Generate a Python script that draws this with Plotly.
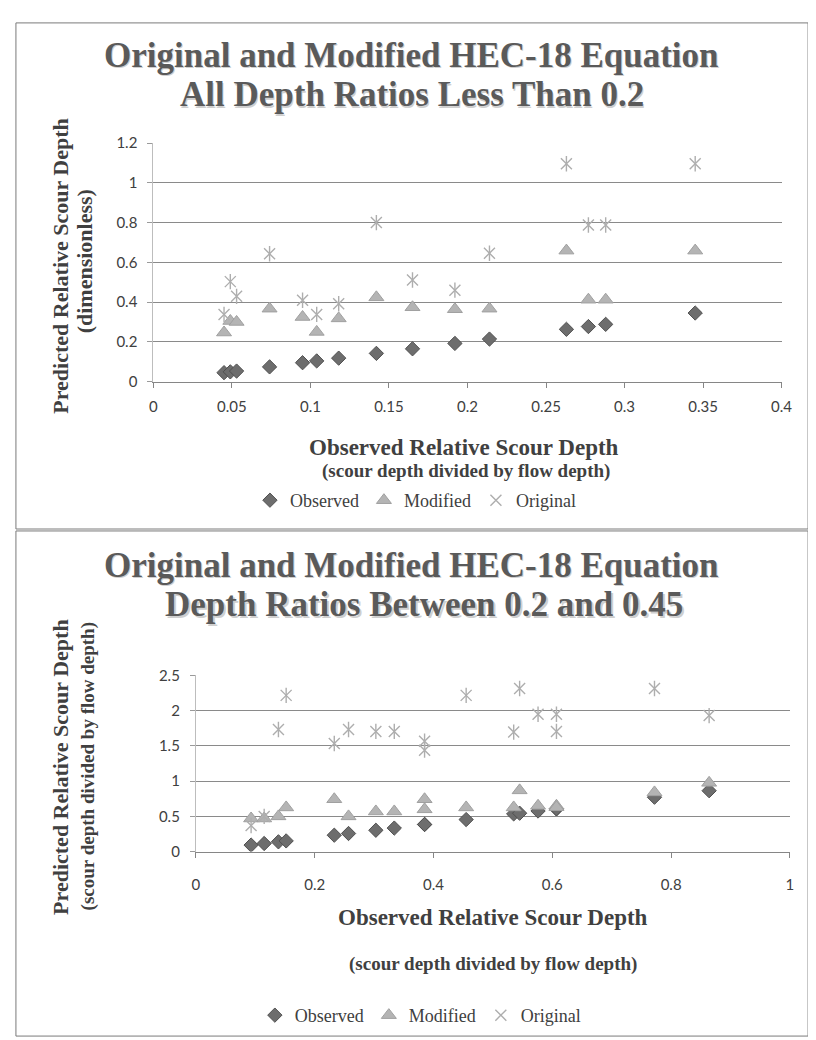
import plotly.graph_objects as go

W, H = 816, 1040

# ---------------- data: top chart (depth ratios < 0.2) ----------------
top_x = [0.045, 0.049, 0.053, 0.074, 0.095, 0.104, 0.118, 0.142, 0.165,
         0.192, 0.214, 0.263, 0.277, 0.288, 0.345]
top_observed = [0.045, 0.049, 0.053, 0.074, 0.095, 0.104, 0.118, 0.142, 0.165,
                0.192, 0.214, 0.263, 0.277, 0.288, 0.345]
top_modified = [0.247, 0.305, 0.300, 0.367, 0.325, 0.250, 0.318, 0.424, 0.374,
                0.364, 0.367, 0.659, 0.412, 0.412, 0.659]
top_original = [0.338, 0.503, 0.429, 0.643, 0.409, 0.338, 0.392, 0.800, 0.511,
                0.460, 0.646, 1.096, 0.788, 0.788, 1.096]

# ---------------- data: bottom chart (0.2 - 0.45) ----------------
bot_x = [0.093, 0.115, 0.139, 0.152, 0.233, 0.257, 0.303, 0.334, 0.385, 0.385,
         0.455, 0.535, 0.545, 0.576, 0.607, 0.607, 0.772, 0.864]
bot_observed = [0.093, 0.115, 0.139, 0.152, 0.233, 0.257, 0.303, 0.334, 0.385, 0.385,
                0.455, 0.535, 0.545, 0.576, 0.607, 0.607, 0.772, 0.864]
bot_modified = [0.47, 0.47, 0.50, 0.627, 0.743, 0.50, 0.57, 0.57, 0.743, 0.60,
                0.627, 0.627, 0.869, 0.65, 0.65, 0.63, 0.84, 0.976]
bot_original = [0.37, 0.50, 1.733, 2.217, 1.534, 1.733, 1.706, 1.706, 1.566, 1.44,
                2.217, 1.696, 2.315, 1.95, 1.95, 1.706, 2.315, 1.93]

series_names = ["Observed", "Modified", "Original"]
top_title = ["Original and Modified HEC-18 Equation", "All Depth Ratios Less Than 0.2"]
bot_title = ["Original and Modified HEC-18 Equation", "Depth Ratios Between 0.2 and 0.45"]
x_title = "Observed Relative Scour Depth"
x_sub = "(scour depth divided by flow depth)"
y_title = "Predicted Relative Scour Depth"
top_y_sub = "(dimensionless)"
bot_y_sub = "(scour depth divided by flow depth)"


def px(x):
    return x / W


def py(y):
    return 1 - y / H


SERIF = "Liberation Serif, Times New Roman, serif"
SANS = "Lato, Carlito, Calibri, sans-serif"

OBS = dict(symbol="diamond", size=11, color="#6d6d6d", line=dict(color="#505050", width=1))
MOD = dict(symbol="triangle-up", size=13, color="#b4b4b4", line=dict(color="#a0a0a0", width=1))
STAR_C = "#aeaeae"
ORX = dict(symbol="x-thin-open", size=11, color=STAR_C, line=dict(color=STAR_C, width=1.4))
ORV = dict(symbol="line-ns-open", size=11, color=STAR_C, line=dict(color=STAR_C, width=1.4))

fig = go.Figure()

for xa, ya, lg, xs, obs, mod, org in [
    ("x", "y", "legend", top_x, top_observed, top_modified, top_original),
    ("x2", "y2", "legend2", bot_x, bot_observed, bot_modified, bot_original),
]:
    fig.add_trace(go.Scatter(x=xs, y=obs, mode="markers", name=series_names[0], marker=OBS,
                             xaxis=xa, yaxis=ya, legend=lg))
    fig.add_trace(go.Scatter(x=xs, y=mod, mode="markers", name=series_names[1], marker=MOD,
                             xaxis=xa, yaxis=ya, legend=lg))
    fig.add_trace(go.Scatter(x=xs, y=org, mode="markers", name=series_names[2], marker=ORX,
                             xaxis=xa, yaxis=ya, legend=lg))
    fig.add_trace(go.Scatter(x=xs, y=org, mode="markers", name=series_names[2], marker=ORV,
                             xaxis=xa, yaxis=ya, legend=lg, showlegend=False))

tickfont = dict(family=SANS, size=15, color="#404040")
xcommon = dict(showline=True, linecolor="#868686", linewidth=1, ticks="outside", ticklen=5,
               tickcolor="#868686", showgrid=False, zeroline=False, tickfont=tickfont, tick0=0)
ycommon = dict(showline=True, linecolor="#bdbdbd", linewidth=1, ticks="outside", ticklen=5,
               tickcolor="#9a9a9a", showgrid=True, gridcolor="#8a8a8a", gridwidth=1,
               zeroline=False, tickfont=tickfont, tick0=0, ticklabelstandoff=7)

fig.update_layout(
    width=W, height=H, margin=dict(l=0, r=0, t=0, b=0),
    paper_bgcolor="white", plot_bgcolor="white",
    xaxis=dict(domain=[px(144), px(784)], range=[0, 0.4], dtick=0.05, anchor="y",
               ticklabelstandoff=6, **xcommon),
    yaxis=dict(domain=[py(370), py(127.3)], range=[0, 1.2], dtick=0.2, anchor="x", **ycommon),
    xaxis2=dict(domain=[px(187.3), px(792.5)], range=[0, 1], dtick=0.2, anchor="y2",
                ticklabelstandoff=14, **xcommon),
    yaxis2=dict(domain=[py(848.3), py(669)], range=[0, 2.5], dtick=0.5, anchor="x2", **ycommon),
    legend=dict(orientation="h", x=px(411), y=py(491), xanchor="center", yanchor="middle",
                font=dict(family=SERIF, size=18, color="#404040"), itemwidth=30,
                tracegroupgap=0, bgcolor="rgba(0,0,0,0)"),
    legend2=dict(orientation="h", x=px(416), y=py(1015), xanchor="center", yanchor="middle",
                 font=dict(family=SERIF, size=18, color="#404040"), itemwidth=30,
                 tracegroupgap=0, bgcolor="rgba(0,0,0,0)"),
)

anns = []


def ann(text, x, y, size, color="#404040", bold=True, angle=0):
    t = "<b>%s</b>" % text if bold else text
    anns.append(dict(text=t, x=px(x), y=py(y), xref="paper", yref="paper", showarrow=False,
                     xanchor="center", yanchor="middle", textangle=angle,
                     font=dict(family=SERIF, size=size, color=color)))


def title(text, x, y):
    ann(text, x + 1.5, y + 1.5, 35, color="#cfcfcf")
    ann(text, x, y, 35, color="#5a5a5a")


title(top_title[0], 407, 38)
title(top_title[1], 407, 78)
title(bot_title[0], 407, 557)
title(bot_title[1], 420, 597)

ann(y_title, 50, 252, 22, angle=-90)
ann(top_y_sub, 74, 248, 22, angle=-90)
ann(x_title, 460, 437, 23)
ann(x_sub, 463, 461, 19)

ann(y_title, 50, 762, 22, angle=-90)
ann(bot_y_sub, 77, 762, 19, angle=-90)
ann(x_title, 490, 915, 23)
ann(x_sub, 490, 963, 19)

fig.update_layout(annotations=anns)

# panel borders
shapes = [
    dict(type="rect", xref="paper", yref="paper", x0=px(4), x1=px(811), y0=py(520), y1=py(5),
         line=dict(color="#7a7a7a", width=1)),
    dict(type="rect", xref="paper", yref="paper", x0=px(4), x1=px(811), y0=py(1036), y1=py(522),
         line=dict(color="#7a7a7a", width=1)),
]
fig.update_layout(shapes=shapes)

fig.write_html("out.html")
